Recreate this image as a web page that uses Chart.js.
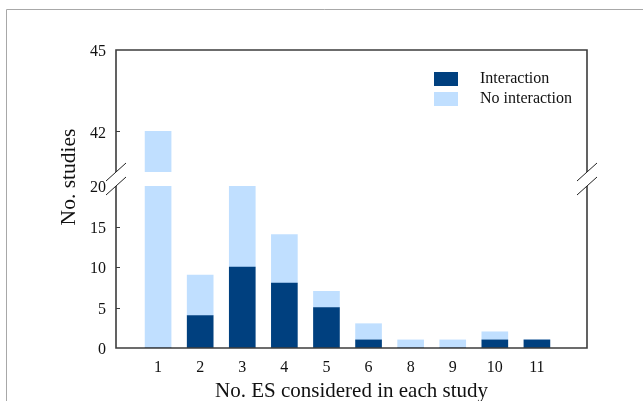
<!DOCTYPE html>
<html>
<head>
<meta charset="utf-8">
<script src="https://cdn.jsdelivr.net/npm/chart.js@4/dist/chart.umd.min.js"></script>
<style>
  html, body { margin: 0; padding: 0; background: #fff; }
  canvas { display: block; }
</style>
</head>
<body>
<canvas id="c" width="643" height="401"></canvas>
<script>
// Number of effect sizes (ES) considered in each study
const categories = ['1', '2', '3', '4', '5', '6', '8', '9', '10', '11'];
const interaction = [0, 4, 10, 8, 5, 1, 0, 0, 1, 1];
const noInteraction = [42, 5, 10, 6, 2, 2, 1, 1, 1, 0];
const yTicks = [0, 5, 10, 15, 20, 42, 45];

// Broken y axis: lower segment 0–20, upper segment 40.5–45
const LOW_MAX = 20, HIGH_MIN = 40.5, HIGH_MAX = 45;
const LOW_FRAC = 162 / 298, GAP_FRAC = 14 / 298, HIGH_FRAC = 122 / 298;

const FONT = "'Liberation Serif', 'Times New Roman', serif";
const DARK = '#00407f';
const LIGHT = '#c0dfff';
const FRAME = '#3c3c3c';

class BrokenLinearScale extends Chart.LinearScale {
  buildTicks() {
    return yTicks.map(v => ({ value: v }));
  }
  getPixelForValue(v) {
    const H = this.bottom - this.top;
    const lowH = H * LOW_FRAC, gapH = H * GAP_FRAC, highH = H * HIGH_FRAC;
    if (v <= LOW_MAX) return this.bottom - (v / LOW_MAX) * lowH;
    if (v < HIGH_MIN) return this.bottom - lowH - ((v - LOW_MAX) / (HIGH_MIN - LOW_MAX)) * gapH;
    return this.bottom - lowH - gapH - ((v - HIGH_MIN) / (HIGH_MAX - HIGH_MIN)) * highH;
  }
  getValueForPixel(p) {
    const H = this.bottom - this.top;
    const lowH = H * LOW_FRAC, gapH = H * GAP_FRAC, highH = H * HIGH_FRAC;
    const d = this.bottom - p;
    if (d <= lowH) return d / lowH * LOW_MAX;
    if (d < lowH + gapH) return LOW_MAX + (d - lowH) / gapH * (HIGH_MIN - LOW_MAX);
    return HIGH_MIN + (d - lowH - gapH) / highH * (HIGH_MAX - HIGH_MIN);
  }
}
BrokenLinearScale.id = 'brokenLinear';
BrokenLinearScale.defaults = Object.assign({}, Chart.LinearScale.defaults);
Chart.register(BrokenLinearScale);

const toPoints = arr => arr.map((v, i) => ({ x: i + 1, y: v }));

// Frame, axis break marks, inward ticks, legend and y title
const decorations = {
  id: 'decorations',
  afterDatasetsDraw(chart) {
    const { ctx, chartArea: a, scales: { y } } = chart;
    const yBreakTop = y.getPixelForValue(HIGH_MIN);
    const yBreakBot = y.getPixelForValue(LOW_MAX);
    ctx.save();

    // white band across the break
    ctx.fillStyle = '#fff';
    ctx.fillRect(a.left - 4, yBreakTop, a.right - a.left + 8, yBreakBot - yBreakTop);

    // plot frame
    ctx.strokeStyle = FRAME;
    ctx.lineWidth = 1.6;
    ctx.beginPath();
    ctx.moveTo(a.left, yBreakTop); ctx.lineTo(a.left, a.top); ctx.lineTo(a.right, a.top); ctx.lineTo(a.right, yBreakTop);
    ctx.moveTo(a.left, yBreakBot); ctx.lineTo(a.left, a.bottom); ctx.lineTo(a.right, a.bottom); ctx.lineTo(a.right, yBreakBot);
    ctx.stroke();

    // inward tick marks
    ctx.lineWidth = 1.2;
    ctx.beginPath();
    [5, 10, 15, 42].forEach(v => {
      const py = Math.round(y.getPixelForValue(v)) + 0.5;
      ctx.moveTo(a.left, py); ctx.lineTo(a.left + 4, py);
    });
    ctx.stroke();

    // break slashes
    ctx.strokeStyle = '#222';
    ctx.lineWidth = 1;
    ctx.beginPath();
    [a.left, a.right].forEach(px => {
      [yBreakTop, yBreakBot].forEach(py => {
        ctx.moveTo(px - 10, py + 9); ctx.lineTo(px + 10, py - 9);
      });
    });
    ctx.stroke();

    // legend
    const items = [
      { label: chart.data.datasets[0].label, color: DARK, y: 72 },
      { label: chart.data.datasets[1].label, color: LIGHT, y: 92 }
    ];
    ctx.font = '16px ' + FONT;
    ctx.textBaseline = 'middle';
    ctx.textAlign = 'left';
    items.forEach(it => {
      ctx.fillStyle = it.color;
      ctx.fillRect(434, it.y, 24, 14);
      ctx.fillStyle = '#111';
      ctx.fillText(it.label, 480, it.y + 7);
    });

    // y axis title
    ctx.translate(69, 177);
    ctx.rotate(-Math.PI / 2);
    ctx.font = '21.5px ' + FONT;
    ctx.textAlign = 'center';
    ctx.fillStyle = '#111';
    ctx.fillText('No. studies', 0, 0);
    ctx.restore();

    // page edge
    ctx.save();
    ctx.strokeStyle = '#a8a8a8';
    ctx.lineWidth = 1;
    ctx.beginPath();
    ctx.moveTo(6.5, 401); ctx.lineTo(6.5, 9.5); ctx.lineTo(643, 9.5);
    ctx.stroke();
    ctx.restore();
  }
};

new Chart(document.getElementById('c'), {
  type: 'bar',
  data: {
    datasets: [
      { label: 'Interaction', data: toPoints(interaction), backgroundColor: DARK, borderWidth: 0 },
      { label: 'No interaction', data: toPoints(noInteraction), backgroundColor: LIGHT, borderWidth: 0 }
    ]
  },
  options: {
    responsive: false,
    animation: false,
    events: [],
    layout: { padding: { top: 50, right: 56, left: 0, bottom: 0 } },
    datasets: { bar: { barThickness: 26 } },
    plugins: { legend: { display: false }, tooltip: { enabled: false } },
    scales: {
      x: {
        type: 'linear',
        stacked: true,
        offset: false,
        min: 0,
        max: 11.19,
        grid: { display: false, drawTicks: false },
        border: { display: false },
        ticks: {
          stepSize: 1,
          autoSkip: false,
          maxRotation: 0,
          padding: 10,
          color: '#111',
          font: { family: FONT, size: 16 },
          callback: v => (Number.isInteger(v) && v >= 1 && v <= categories.length) ? categories[v - 1] : ''
        },
        title: {
          display: true,
          text: 'No. ES considered in each study',
          color: '#111',
          font: { family: FONT, size: 21 },
          padding: { top: 0, bottom: -3 }
        },
        afterFit: s => { s.height = 53; }
      },
      y: {
        type: 'brokenLinear',
        stacked: true,
        min: 0,
        max: HIGH_MAX,
        grid: { display: false, drawTicks: false },
        border: { display: false },
        ticks: {
          padding: 10,
          labelOffset: 2,
          color: '#111',
          font: { family: FONT, size: 16 }
        },
        afterFit: s => { s.width = 116; }
      }
    }
  },
  plugins: [decorations]
});
</script>
</body>
</html>
